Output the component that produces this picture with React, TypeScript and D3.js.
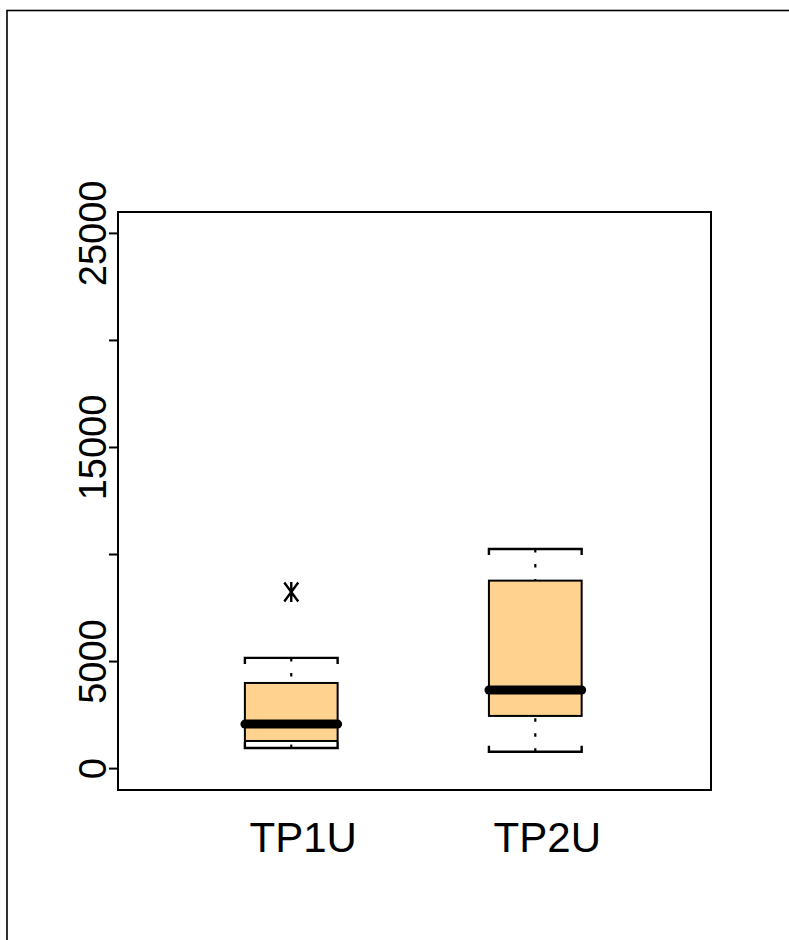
import React, { useEffect, useRef } from "react";
import * as d3 from "d3";

// box statistics
const groups = ["TP1U", "TP2U"];
const lowerWhisker = [960, 790];
const q1 = [1290, 2460];
const medians = [2080, 3670];
const q3 = [4000, 8780];
const upperWhisker = [5170, 10260];

const outlierGroup = ["TP1U"];
const outlierValue = [8250];

const yTicks = [0, 5000, 10000, 15000, 20000, 25000];
const yLabelShown = ["0", "5000", "", "15000", "", "25000"];
const yLim = [0, 25000];

const App = () => {
  const svgRef = useRef<SVGSVGElement>(null);

  useEffect(() => {
    const svg = d3.select(svgRef.current);
    svg.selectAll("*").remove();

    const width = 789;
    const height = 940;
    const plot = { left: 118, right: 711, top: 212, bottom: 790 };
    const font = "'Liberation Sans', Arial, Helvetica, sans-serif";

    svg.attr("width", width).attr("height", height);

    svg
      .append("rect")
      .attr("width", width)
      .attr("height", height)
      .attr("fill", "#fff");

    // figure frame (runs off the picture on the right and bottom)
    svg
      .append("rect")
      .attr("x", 7)
      .attr("y", 10.5)
      .attr("width", 1000)
      .attr("height", 1000)
      .attr("fill", "none")
      .attr("stroke", "#000")
      .attr("stroke-width", 1.6);

    // R style 4% extension of the limits
    const pad = (yLim[1] - yLim[0]) * 0.04;
    const y = d3
      .scaleLinear()
      .domain([yLim[0] - pad, yLim[1] + pad])
      .range([plot.bottom, plot.top]);

    const x = d3
      .scaleLinear()
      .domain([0.29, 2.72])
      .range([plot.left, plot.right]);

    const half = 0.19; // half box width, in group units
    const tip = 6;

    const boxes = groups.map((g, i) => ({
      name: g,
      pos: i + 1,
      lo: lowerWhisker[i],
      q1: q1[i],
      med: medians[i],
      q3: q3[i],
      hi: upperWhisker[i],
    }));

    const g = svg.append("g");

    // whiskers, dotted, drawn from the cap towards the box
    g.selectAll("path.whisker-up")
      .data(boxes)
      .join("path")
      .attr("d", (d) => `M${x(d.pos)},${y(d.hi)}V${y(d.q3)}`)
      .attr("stroke", "#000")
      .attr("stroke-width", 2.2)
      .attr("stroke-dasharray", "3.5 11.5")
      .attr("fill", "none");

    g.selectAll("path.whisker-down")
      .data(boxes)
      .join("path")
      .attr("d", (d) => `M${x(d.pos)},${y(d.lo)}V${y(d.q1)}`)
      .attr("stroke", "#000")
      .attr("stroke-width", 2.2)
      .attr("stroke-dasharray", "3.5 11.5")
      .attr("fill", "none");

    // staples
    const staple = (d, v, dir) => {
      const x0 = x(d.pos - half);
      const x1 = x(d.pos + half);
      const yy = y(v);
      return `M${x0},${yy + dir * tip}V${yy}H${x1}V${yy + dir * tip}`;
    };

    g.selectAll("path.cap-up")
      .data(boxes)
      .join("path")
      .attr("d", (d) => staple(d, d.hi, 1))
      .attr("stroke", "#000")
      .attr("stroke-width", 2.4)
      .attr("fill", "none");

    g.selectAll("path.cap-down")
      .data(boxes)
      .join("path")
      .attr("d", (d) => staple(d, d.lo, -1))
      .attr("stroke", "#000")
      .attr("stroke-width", 2.4)
      .attr("fill", "none");

    // boxes
    g.selectAll("rect.box")
      .data(boxes)
      .join("rect")
      .attr("x", (d) => x(d.pos - half))
      .attr("y", (d) => y(d.q3))
      .attr("width", (d) => x(d.pos + half) - x(d.pos - half))
      .attr("height", (d) => y(d.q1) - y(d.q3))
      .attr("fill", "#FFD28F")
      .attr("stroke", "#000")
      .attr("stroke-width", 2);

    // medians
    g.selectAll("line.median")
      .data(boxes)
      .join("line")
      .attr("x1", (d) => x(d.pos - half))
      .attr("x2", (d) => x(d.pos + half))
      .attr("y1", (d) => y(d.med))
      .attr("y2", (d) => y(d.med))
      .attr("stroke", "#000")
      .attr("stroke-width", 9)
      .attr("stroke-linecap", "round");

    // outliers (asterisk)
    const outliers = outlierGroup.map((name, i) => ({
      pos: groups.indexOf(name) + 1,
      value: outlierValue[i],
    }));
    g.selectAll("path.out")
      .data(outliers)
      .join("path")
      .attr("transform", (d) => `translate(${x(d.pos)},${y(d.value)})`)
      .attr("d", "M0,-10V10M-7,-9.5L7,9.5M-7,9.5L7,-9.5")
      .attr("stroke", "#000")
      .attr("stroke-width", 2.4)
      .attr("fill", "none");

    // plot frame
    svg
      .append("rect")
      .attr("x", plot.left)
      .attr("y", plot.top)
      .attr("width", plot.right - plot.left)
      .attr("height", plot.bottom - plot.top)
      .attr("fill", "none")
      .attr("stroke", "#000")
      .attr("stroke-width", 2);

    // y axis ticks
    svg
      .append("g")
      .selectAll("line")
      .data(yTicks)
      .join("line")
      .attr("x1", plot.left - 9)
      .attr("x2", plot.left)
      .attr("y1", (d) => y(d))
      .attr("y2", (d) => y(d))
      .attr("stroke", "#000")
      .attr("stroke-width", 2);

    svg
      .append("g")
      .selectAll("text")
      .data(yTicks.map((v, i) => ({ v, label: yLabelShown[i] })))
      .join("text")
      .attr("transform", (d) => `translate(106,${y(d.v)}) rotate(-90)`)
      .attr("text-anchor", "middle")
      .style("font-family", font)
      .style("font-size", "38px")
      .text((d) => d.label);

    // group labels
    svg
      .append("g")
      .selectAll("text")
      .data(boxes)
      .join("text")
      .attr("x", (d) => x(d.pos) + 12)
      .attr("y", 852)
      .attr("text-anchor", "middle")
      .style("font-family", font)
      .style("font-size", "42px")
      .text((d) => d.name);
  }, []);

  return (
    <div style={{ position: "absolute", left: 0, top: 0 }}>
      <svg ref={svgRef} style={{ display: "block" }}></svg>
    </div>
  );
};

export default App;
